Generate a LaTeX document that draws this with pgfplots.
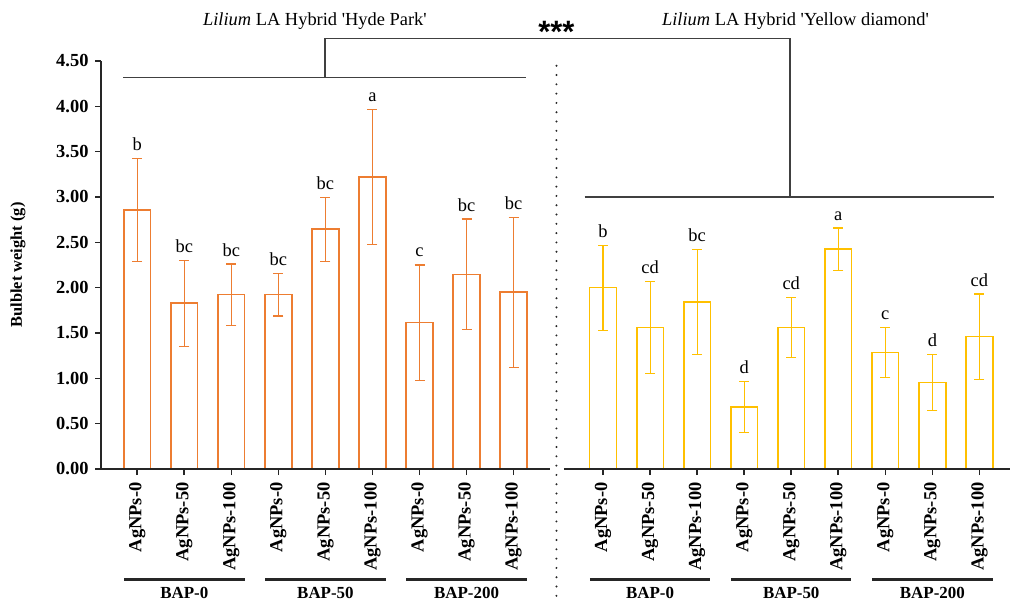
\documentclass[border=0pt]{standalone}
\usepackage{fontspec}
\setmainfont{Liberation Serif}
\newfontfamily\sansb{Liberation Sans}
\usepackage{pgfplots}
\usepackage{pgfplotstable}
\pgfplotsset{compat=1.18}
\definecolor{orL}{RGB}{237,125,49}
\definecolor{yeR}{RGB}{255,192,0}
\definecolor{ax}{RGB}{38,38,38}
\definecolor{br}{RGB}{64,64,64}

\pgfplotstableread{
x y e lab
0 2.858 0.570 b
1 1.828 0.475 bc
2 1.923 0.338 bc
3 1.923 0.235 bc
4 2.645 0.352 bc
5 3.220 0.745 a
6 1.615 0.635 c
7 2.147 0.610 bc
8 1.949 0.825 bc
}\lefttab

\pgfplotstableread{
x y e lab
9.9 2.000 0.470 b
10.9 1.560 0.505 cd
11.9 1.842 0.580 bc
12.9 0.683 0.280 d
13.9 1.560 0.335 cd
14.9 2.425 0.233 a
15.9 1.284 0.275 c
16.9 0.954 0.305 d
17.9 1.460 0.470 cd
}\righttab

\tikzset{grpline/.style={ax, line width=2.5bp},
         grplab/.style={anchor=north, inner sep=0pt, font=\fontsize{17}{18}\selectfont\bfseries}}

\begin{document}
\begin{tikzpicture}
\useasboundingbox (0,0) rectangle (1010bp,604bp);
\begin{axis}[
  at={(101bp,135bp)}, anchor=south west,
  scale only axis, width=909bp, height=408bp,
  xmin=-0.77, xmax=18.55, ymin=0, ymax=4.5,
  clip=false,
  axis x line*=bottom, axis y line*=left,
  axis line style={-, line width=2bp, draw=ax},
  x axis line style={draw=none},
  tick align=outside, major tick length=6bp,
  tick style={line width=1.6bp, draw=ax},
  ytick={0,0.5,1,1.5,2,2.5,3,3.5,4,4.5},
  /pgf/number format/fixed, /pgf/number format/fixed zerofill,
  /pgf/number format/precision=2, /pgf/number format/assume math mode=true,
  yticklabel style={font=\fontsize{18.5}{19}\selectfont\bfseries, xshift=-3bp},
  xtick={0,1,2,3,4,5,6,7,8,9.9,10.9,11.9,12.9,13.9,14.9,15.9,16.9,17.9},
  xticklabels={AgNPs-0,AgNPs-50,AgNPs-100,AgNPs-0,AgNPs-50,AgNPs-100,AgNPs-0,AgNPs-50,AgNPs-100,
               AgNPs-0,AgNPs-50,AgNPs-100,AgNPs-0,AgNPs-50,AgNPs-100,AgNPs-0,AgNPs-50,AgNPs-100},
  xticklabel style={rotate=90, anchor=east, xshift=-4bp, font=\fontsize{18.5}{19}\selectfont\bfseries},
  ylabel={Bulblet weight (g)},
  ylabel style={at={(axis description cs:-0.0913,0.5)}, anchor=center, font=\fontsize{16.5}{18}\selectfont\bfseries},
]
\addplot[ybar, bar width=0.567, bar shift=0pt, draw=orL, fill=white, line width=1.6bp,
  error bars/.cd, y dir=both, y explicit,
  error bar style={line width=1.1bp, orL},
  error mark options={rotate=90, line width=1.1bp, mark size=5bp, orL}]
  table[x=x, y=y, y error=e] {\lefttab};
\addplot[ybar, bar width=0.567, bar shift=0pt, draw=yeR, fill=white, line width=1.6bp,
  error bars/.cd, y dir=both, y explicit,
  error bar style={line width=1.1bp, yeR},
  error mark options={rotate=90, line width=1.1bp, mark size=5bp, yeR}]
  table[x=x, y=y, y error=e] {\righttab};
\addplot[only marks, mark=none, nodes near coords, point meta=explicit symbolic,
  nodes near coords style={anchor=base, yshift=8bp, font=\fontsize{18.5}{20}\selectfont, text=black}]
  table[x=x, y expr=\thisrow{y}+\thisrow{e}, meta=lab] {\lefttab};
\addplot[only marks, mark=none, nodes near coords, point meta=explicit symbolic,
  nodes near coords style={anchor=base, yshift=8bp, font=\fontsize{18.5}{20}\selectfont, text=black}]
  table[x=x, y expr=\thisrow{y}+\thisrow{e}, meta=lab] {\righttab};

% baselines
\draw[ax, line width=2bp] (axis cs:-0.77,0) -- (axis cs:8.77,0);
\draw[ax, line width=2bp] (axis cs:9.07,0) -- (axis cs:18.55,0);
% dotted separator
\draw[ax, line width=2.2bp, line cap=round, dash pattern=on 0bp off 9.3bp] (axis cs:8.91,4.448) -- (axis cs:8.91,-1.55);
% brackets
\draw[br, line width=1.5bp] (axis cs:-0.30,4.316) -- (axis cs:8.26,4.316);
\draw[br, line width=1.5bp] (axis cs:3.99,4.316) -- (axis cs:3.99,4.746) -- (axis cs:13.87,4.746) -- (axis cs:13.87,3.0);
\draw[br, line width=1.5bp] (axis cs:9.51,3.0) -- (axis cs:18.21,3.0);
% titles
\node[anchor=base, font=\fontsize{18.5}{20}\selectfont] at (axis cs:3.777,4.886) {\textit{Lilium} LA Hybrid \textquotesingle Hyde Park\textquotesingle};
\node[anchor=base, font=\fontsize{18.5}{20}\selectfont] at (axis cs:13.99,4.886) {\textit{Lilium} LA Hybrid \textquotesingle Yellow diamond\textquotesingle};
\node[anchor=base, font=\sansb\bfseries\fontsize{31}{32}\selectfont] at (axis cs:8.91,4.70) {***};
% group lines and labels
\draw[grpline] (axis cs:-0.28,-1.217) -- (axis cs:2.28,-1.217);
\draw[grpline] (axis cs:2.72,-1.217) -- (axis cs:5.28,-1.217);
\draw[grpline] (axis cs:5.72,-1.217) -- (axis cs:8.28,-1.217);
\draw[grpline] (axis cs:9.62,-1.217) -- (axis cs:12.18,-1.217);
\draw[grpline] (axis cs:12.62,-1.217) -- (axis cs:15.18,-1.217);
\draw[grpline] (axis cs:15.62,-1.217) -- (axis cs:18.18,-1.217);
\node[grplab] at (axis cs:1,-1.30) {BAP-0};
\node[grplab] at (axis cs:4,-1.30) {BAP-50};
\node[grplab] at (axis cs:7,-1.30) {BAP-200};
\node[grplab] at (axis cs:10.9,-1.30) {BAP-0};
\node[grplab] at (axis cs:13.9,-1.30) {BAP-50};
\node[grplab] at (axis cs:16.9,-1.30) {BAP-200};
\end{axis}
\end{tikzpicture}
\end{document}
